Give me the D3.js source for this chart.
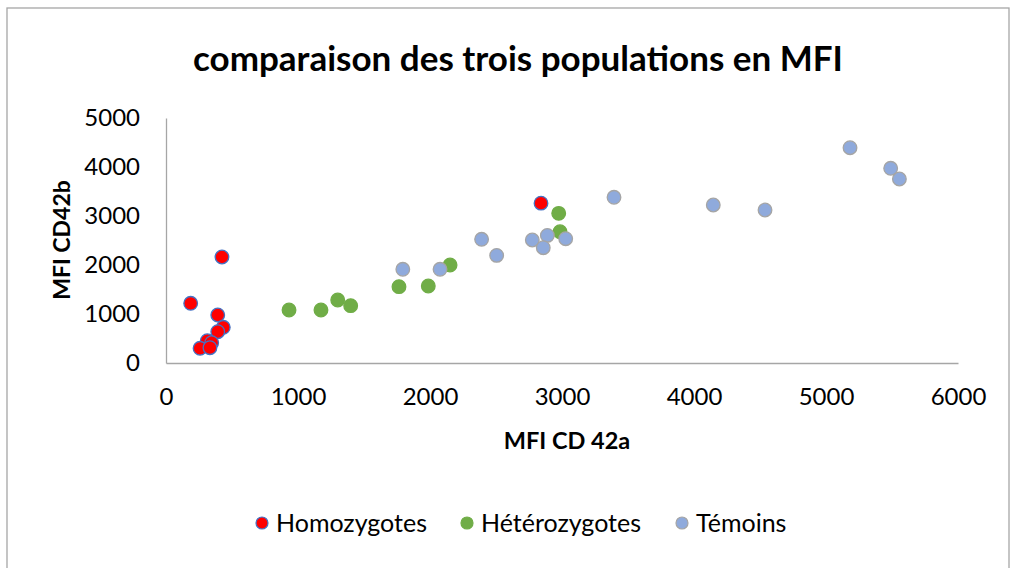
<!DOCTYPE html>
<html lang="fr">
<head>
<meta charset="UTF-8">
<title>comparaison des trois populations en MFI</title>
<script src="https://d3js.org/d3.v7.min.js"></script>
<style>
  body { margin: 0; background: #fff; }
  svg text { font-family: Lato, "Open Sans", sans-serif; fill: #000; }
  .axis path { stroke: #a6a6a6; stroke-width: 1.3px; }
  .axis line { display: none; }
</style>
</head>
<body>
<svg id="chart" width="1018" height="568"></svg>
<script>
// values
var homoX = [187, 392, 434, 392, 313, 346, 258, 333, 424, 2841];
var homoY = [1218, 980, 729, 639, 455, 414, 300, 312, 2163, 3262];
var hetX = [932, 1174, 1301, 1399, 1765, 1987, 2152, 2975, 2985];
var hetY = [1082, 1082, 1286, 1170, 1558, 1571, 2000, 3054, 2680];
var temX = [1794, 2076, 2391, 2505, 2775, 2889, 2858, 3028, 3394, 4146, 4538, 5182, 5490, 5556];
var temY = [1912, 1912, 2524, 2196, 2510, 2604, 2353, 2537, 3382, 3224, 3122, 4394, 3973, 3755];
var xTicks = [0, 1000, 2000, 3000, 4000, 5000, 6000];
var yTicks = [0, 1000, 2000, 3000, 4000, 5000];

var series = [
  {name: "Homozygotes", xs: homoX, ys: homoY, fill: "#ff0000", stroke: "#4472c4"},
  {name: "Hétérozygotes", xs: hetX, ys: hetY, fill: "#70ad47", stroke: "#70ad47"},
  {name: "Témoins", xs: temX, ys: temY, fill: "#8faadc", stroke: "#a5a5a5"}
];

var svg = d3.select("#chart");

// outer frame
svg.append("rect")
  .attr("x", 7).attr("y", 8)
  .attr("width", 1002).attr("height", 600)
  .style("fill", "none").style("stroke", "#a6a6a6").style("stroke-width", 1.3);

var x = d3.scaleLinear().domain([0, 6000]).range([166, 958]);
var y = d3.scaleLinear().domain([0, 5000]).range([363, 118]);

svg.append("g")
  .attr("class", "axis")
  .attr("transform", "translate(0,363)")
  .call(d3.axisBottom(x).tickValues(xTicks).tickFormat(d3.format("d")).tickSize(0).tickPadding(25).tickSizeOuter(0))
  .selectAll("text").style("font-size", "24px");

svg.append("g")
  .attr("class", "axis")
  .attr("transform", "translate(166,0)")
  .call(d3.axisLeft(y).tickValues(yTicks).tickFormat(d3.format("d")).tickSize(0).tickPadding(26).tickSizeOuter(0))
  .selectAll("text").style("font-size", "24px");

// title
svg.append("text")
  .attr("x", 518).attr("y", 71)
  .attr("text-anchor", "middle")
  .style("font-size", "35px").style("font-weight", "bold")
  .text("comparaison des trois populations en MFI");

svg.append("text")
  .attr("x", 567).attr("y", 449)
  .attr("text-anchor", "middle")
  .style("font-size", "23.5px").style("font-weight", "bold")
  .text("MFI CD 42a");

svg.append("text")
  .attr("transform", "translate(70,240) rotate(-90)")
  .attr("text-anchor", "middle")
  .style("font-size", "23px").style("font-weight", "bold")
  .text("MFI CD42b");

// points
series.forEach(function(s) {
  var pts = s.xs.map(function(v, i) { return [v, s.ys[i]]; });
  svg.append("g").selectAll("circle")
    .data(pts)
    .enter().append("circle")
    .attr("cx", function(d) { return x(d[0]); })
    .attr("cy", function(d) { return y(d[1]); })
    .attr("r", 6.8)
    .style("fill", s.fill)
    .style("stroke", s.stroke)
    .style("stroke-width", 1.3);
});

// legend
var legX = [262, 467, 682];
var leg = svg.append("g").selectAll("g")
  .data(series)
  .enter().append("g")
  .attr("transform", function(d, i) { return "translate(" + legX[i] + ",523)"; });
leg.append("circle")
  .attr("r", 6)
  .style("fill", function(d) { return d.fill; })
  .style("stroke", function(d) { return d.stroke; })
  .style("stroke-width", 1.2);
leg.append("text")
  .attr("x", 14).attr("y", 9)
  .style("font-size", "25px")
  .text(function(d) { return d.name; });
</script>
</body>
</html>
